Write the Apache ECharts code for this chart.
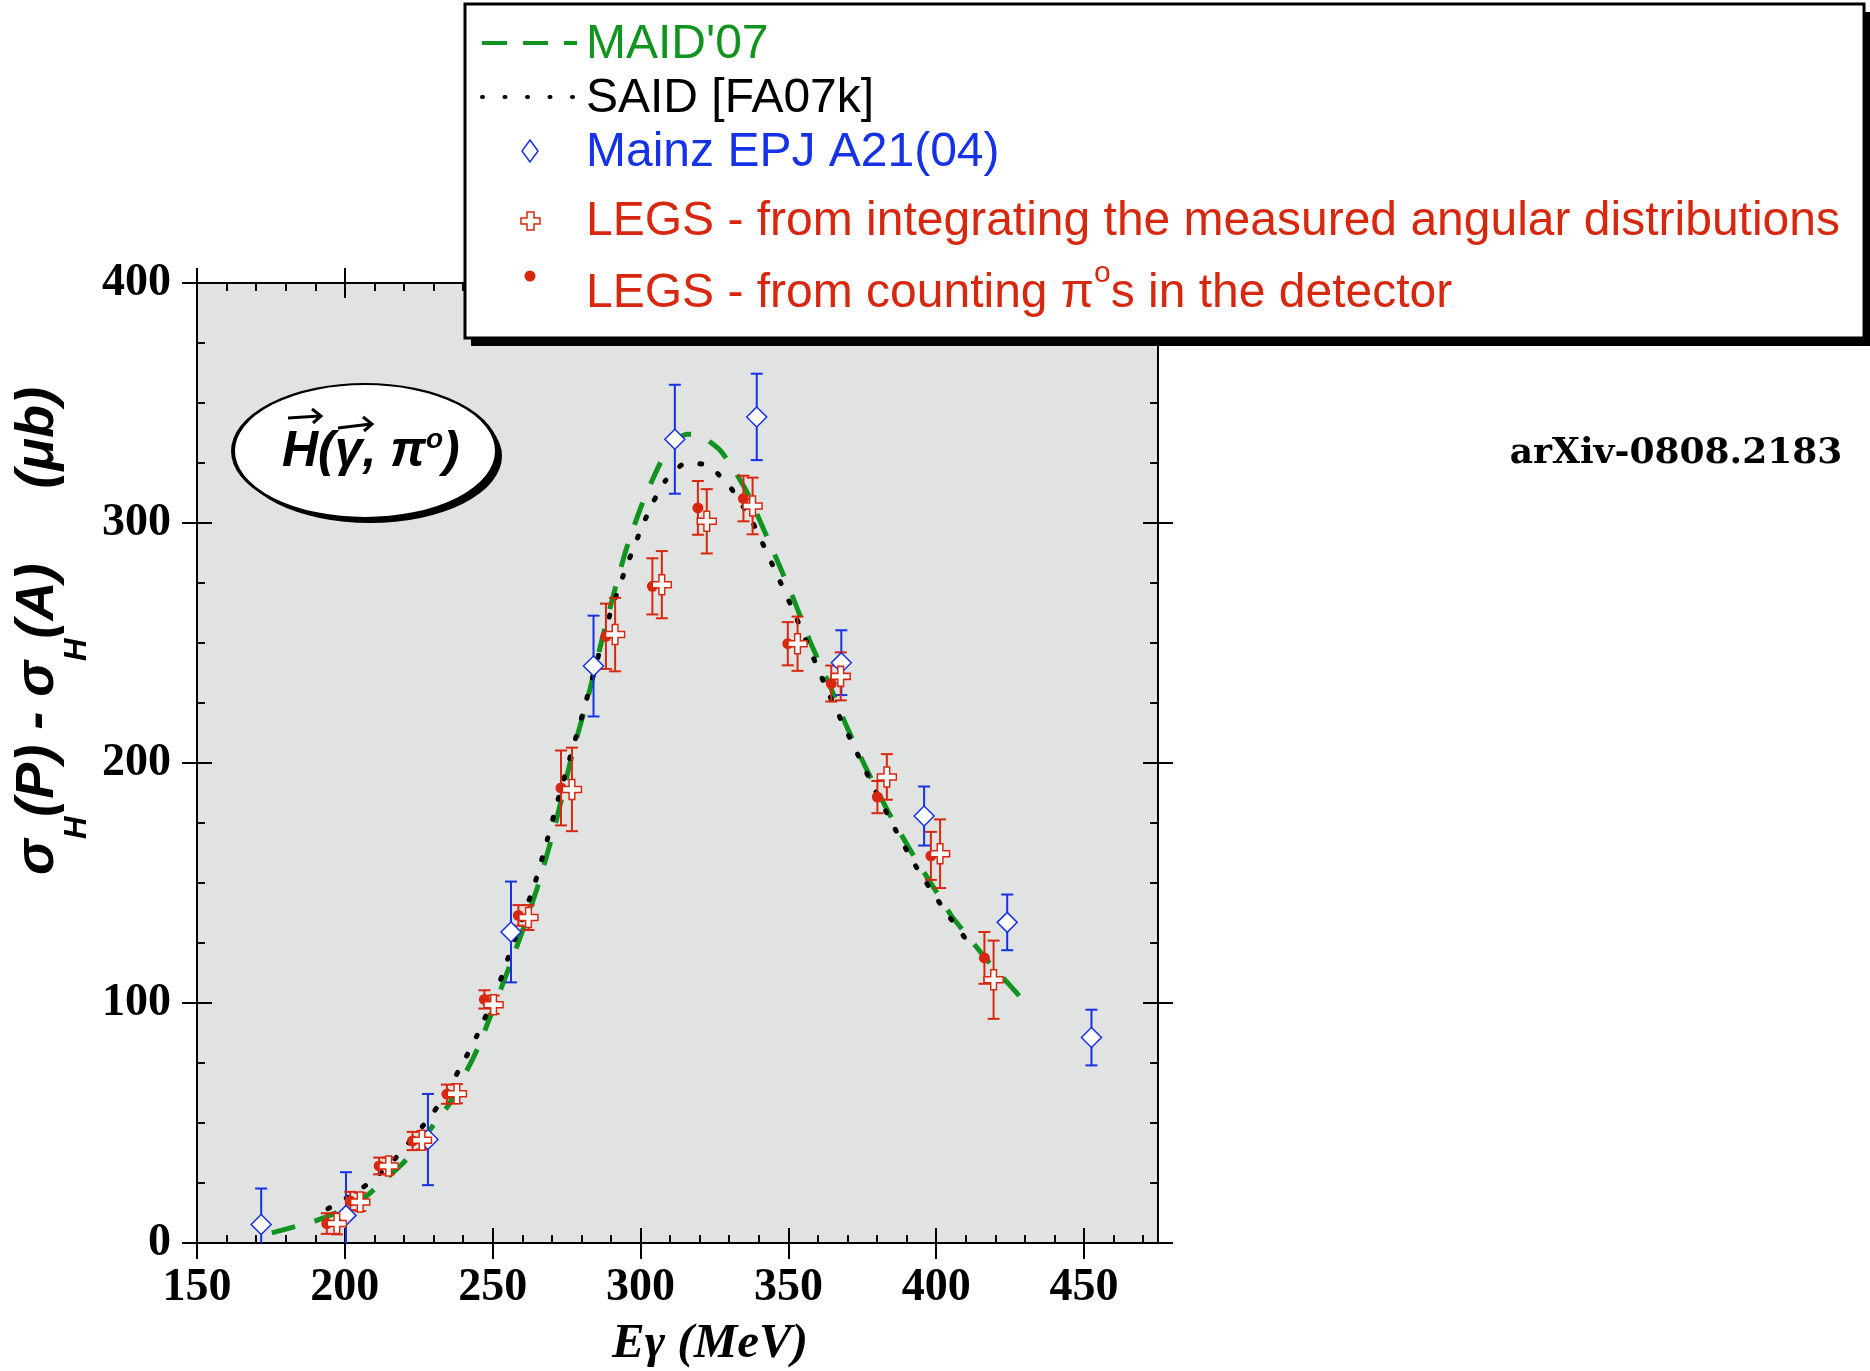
<!DOCTYPE html>
<html>
<head>
<meta charset="utf-8">
<script src="https://cdn.jsdelivr.net/npm/echarts@6/dist/echarts.min.js"></script>
<style>
  html, body { margin: 0; padding: 0; background: #fff; }
  #chart { width: 1870px; height: 1371px; }
</style>
</head>
<body>
<div id="chart"></div>
<script>
// MAID'07 curve (dashed green)
const maidE = [175.3, 183.8, 190, 198.4, 206.9, 212, 219.3, 224.4, 230.2, 235.4, 239.2, 243.3, 246.3, 257.3, 265, 271.1, 276.8, 282.4, 286.9, 291.4, 295.4, 300.5, 306.6, 311.7, 315.7, 320.2, 326.9, 332, 336, 339.3, 345.5, 351.7, 357.4, 364.2, 369.8, 376.5, 383.8, 392.3, 401.3, 405.3, 412, 418.2, 424.4, 430.4];
const maidSigma = [4.2, 7.0, 9.2, 13.3, 19.2, 24.7, 32.8, 40, 49.5, 58.1, 67.1, 76.8, 85.2, 120.6, 147.7, 174, 203.2, 228.2, 251.1, 272.7, 290, 307.8, 324.8, 334.5, 337, 336.5, 330.3, 321.3, 312.9, 303.9, 286.5, 268.5, 250.4, 231.7, 215, 197.2, 179.6, 161.5, 143.9, 136.1, 125.8, 116.4, 108.1, 99.7];

// SAID [FA07k] curve (dotted black)
const saidE = [194.3, 201.8, 208.9, 216.5, 228.1, 232.8, 237.3, 241, 244.7, 251.2, 256.3, 263.8, 268.1, 271.9, 276.2, 280.2, 286.1, 290, 295.4, 300.8, 304.2, 308.3, 315.1, 322.2, 329.4, 333.7, 338.2, 345.2, 351.5, 357.6, 363.8, 370.7, 377.7, 385, 392.9, 402.7, 412.8];
const saidSigma = [14.3, 19.6, 25.7, 34.5, 51.4, 59.5, 69.2, 77.5, 86.5, 104.6, 122.7, 148.1, 166.4, 183.8, 202.5, 219.5, 246.3, 263.3, 282.4, 299.3, 308.5, 317.4, 324.8, 324.3, 316.4, 308.8, 299.5, 281, 263.9, 246.3, 228.5, 210.6, 192.8, 175, 157.4, 138.9, 122];

// Mainz EPJ A21(04)
const mainzE = [171.7, 200.4, 228.1, 256.2, 284.1, 311.6, 339.3, 367.9, 395.9, 424.0, 452.5];
const mainzSigma = [7.7, 11.5, 43.1, 129.6, 240.4, 334.9, 344.2, 241.8, 177.9, 133.6, 85.6];
const mainzErr = [15, 18, 19, 21, 21, 22.7, 18, 13.5, 12.3, 11.6, 11.6];

// LEGS - counting pi0s in the detector (filled dots)
const countE = [193.9, 201.8, 211.6, 222.9, 234.5, 247.2, 258.7, 273.1, 288.3, 304.0, 319.4, 334.8, 349.8, 364.5, 380.1, 398.2, 416.3];
const countSigma = [8.1, 17.5, 32.1, 42.5, 62.0, 101.5, 136.5, 189.6, 252.8, 273.6, 306.3, 310.2, 249.7, 233.1, 185.8, 161.3, 118.8];
const countErr = [4.3, 3.8, 3.5, 3.8, 4, 3.8, 4.3, 15.6, 13.6, 11.7, 11.2, 9.5, 9, 7.5, 6.7, 10, 10.8];

// LEGS - integrating the measured angular distributions (open crosses)
const integE = [197.3, 205.2, 214.8, 226.1, 237.9, 250.3, 262.1, 276.8, 291.4, 307.2, 322.4, 337.9, 353.1, 367.7, 383.3, 401.3, 419.4];
const integSigma = [8.1, 17.1, 32.1, 42.8, 62.2, 99.3, 135.6, 189.0, 253.5, 274.3, 300.7, 307.1, 249.7, 236.1, 194.2, 162.2, 109.7];
const integErr = [4.5, 3.8, 3.5, 3.8, 4, 3.8, 5.2, 17.4, 15.3, 14, 13.4, 11.8, 11.3, 10, 9.5, 14.3, 16.3];

// axis ticks
const xMajor = [150, 200, 250, 300, 350, 400, 450];
const xMinor = [];
for (let v = 160; v < 475; v += 10) { if (v % 50 !== 0) xMinor.push(v); }

const GREEN = '#11941f';
const BLUE = '#1632e6';
const RED = '#d7280f';

const zip2 = (a, b) => a.map((v, i) => [v, b[i]]);
const zip3 = (a, b, c) => a.map((v, i) => [v, b[i], c[i]]);

function errorBars(color) {
  return function (params, api) {
    const x = api.value(0), y = api.value(1), e = api.value(2);
    const hi = api.coord([x, y + e]);
    const lo = api.coord([x, y - e]);
    const w = 6;
    const style = { stroke: color, lineWidth: 2 };
    return {
      type: 'group',
      children: [
        { type: 'line', shape: { x1: hi[0], y1: hi[1], x2: lo[0], y2: lo[1] }, style: style },
        { type: 'line', shape: { x1: hi[0] - w, y1: hi[1], x2: hi[0] + w, y2: hi[1] }, style: style },
        { type: 'line', shape: { x1: lo[0] - w, y1: lo[1], x2: lo[0] + w, y2: lo[1] }, style: style }
      ]
    };
  };
}

const CROSS = 'path://M7,0L13,0L13,7L20,7L20,13L13,13L13,20L7,20L7,13L0,13L0,7L7,7Z';
const tickFont = { fontFamily: 'Liberation Serif', fontWeight: 'bold', fontSize: 46, color: '#000' };
const axLine = { show: true, onZero: false, lineStyle: { color: '#000', width: 2 } };

function xAx(position, ticks, inside, len, labels) {
  return {
    type: 'value', min: 150, max: 475, position: position,
    axisLine: axLine,
    axisTick: { show: true, customValues: ticks, inside: inside, length: len, lineStyle: { color: '#000', width: 2 } },
    axisLabel: labels ? Object.assign({ show: true, customValues: xMajor, margin: 22 }, tickFont) : { show: false },
    splitLine: { show: false }
  };
}
function yAx(position, inside, minor, labels) {
  return {
    type: 'value', min: 0, max: 400, interval: 100, position: position,
    axisLine: axLine,
    axisTick: { show: true, inside: inside, length: 15, lineStyle: { color: '#000', width: 2 } },
    minorTick: { show: minor, splitNumber: 4, length: 8, lineStyle: { color: '#000', width: 2 } },
    axisLabel: labels ? Object.assign({ show: true, margin: 26 }, tickFont) : { show: false },
    splitLine: { show: false }
  };
}

const legendFont = { fontFamily: 'Liberation Sans', fontSize: 48 };
const txX = 586;

const option = {
  animation: false,
  backgroundColor: '#fff',
  grid: {
    left: 197, top: 283, right: 712, bottom: 128,
    show: true, backgroundColor: '#e1e2e2', borderWidth: 0,
    outerBoundsMode: 'none'
  },
  xAxis: [
    xAx('bottom', xMajor, false, 16, true),
    xAx('bottom', xMajor, true, 15, false),
    xAx('bottom', xMinor, true, 8, false),
    xAx('top', xMajor, false, 15, false),
    xAx('top', xMajor, true, 15, false),
    xAx('top', xMinor, true, 8, false)
  ],
  yAxis: [
    yAx('left', false, false, true),
    yAx('left', true, true, false),
    yAx('right', false, false, false),
    yAx('right', true, true, false)
  ],
  series: [
    {
      name: "MAID'07", type: 'line', data: zip2(maidE, maidSigma),
      symbol: 'none', smooth: 0.2, z: 2,
      lineStyle: { color: GREEN, width: 5, type: [24, 20], cap: 'butt' }
    },
    {
      name: 'SAID [FA07k]', type: 'line', data: zip2(saidE, saidSigma),
      symbol: 'none', smooth: 0.2, z: 2,
      lineStyle: { color: '#000', width: 5, type: [2, 19], cap: 'round' }
    },
    {
      type: 'custom', name: 'mainzErr', data: zip3(mainzE, mainzSigma, mainzErr),
      renderItem: errorBars(BLUE), encode: { x: 0, y: 1 }, clip: true, z: 3
    },
    {
      type: 'custom', name: 'countErr', data: zip3(countE, countSigma, countErr),
      renderItem: errorBars(RED), encode: { x: 0, y: 1 }, clip: true, z: 3
    },
    {
      type: 'custom', name: 'integErr', data: zip3(integE, integSigma, integErr),
      renderItem: errorBars(RED), encode: { x: 0, y: 1 }, clip: true, z: 3
    },
    {
      name: 'Mainz EPJ A21(04)', type: 'scatter', data: zip2(mainzE, mainzSigma),
      symbol: 'diamond', symbolSize: 20, z: 4,
      itemStyle: { color: '#fff', borderColor: BLUE, borderWidth: 1.5, opacity: 1 }
    },
    {
      name: 'LEGS counting', type: 'scatter', data: zip2(countE, countSigma),
      symbol: 'circle', symbolSize: 11, z: 5,
      itemStyle: { color: RED, opacity: 1 }
    },
    {
      name: 'LEGS integrating', type: 'scatter', data: zip2(integE, integSigma),
      symbol: CROSS, symbolSize: [19, 20], z: 6,
      itemStyle: { color: '#fff', borderColor: RED, borderWidth: 1.5, opacity: 1 }
    }
  ],
  graphic: [
    // legend box
    { type: 'rect', z: 100, shape: { x: 471, y: 12, width: 1399, height: 334 }, style: { fill: '#000' } },
    { type: 'rect', z: 101, shape: { x: 465, y: 4, width: 1399, height: 334 }, style: { fill: '#fff', stroke: '#000', lineWidth: 3 } },
    { type: 'line', z: 102, shape: { x1: 482, y1: 43, x2: 577, y2: 43 }, style: { stroke: GREEN, lineWidth: 4, lineDash: [25, 16] } },
    { type: 'text', z: 102, x: txX, y: 45, style: Object.assign({ text: "MAID'07", fill: GREEN, verticalAlign: 'middle' }, legendFont) },
    { type: 'line', z: 102, shape: { x1: 482, y1: 97, x2: 575, y2: 97 }, style: { stroke: '#000', lineWidth: 4, lineDash: [1, 21.5], lineCap: 'round' } },
    { type: 'text', z: 102, x: txX, y: 99, style: Object.assign({ text: 'SAID [FA07k]', fill: '#000', verticalAlign: 'middle' }, legendFont) },
    { type: 'polygon', z: 102, shape: { points: [[530, 140], [538, 151], [530, 162], [522, 151]] }, style: { fill: '#fff', stroke: BLUE, lineWidth: 1.5 } },
    { type: 'text', z: 102, x: txX, y: 153, style: Object.assign({ text: 'Mainz EPJ A21(04)', fill: BLUE, verticalAlign: 'middle' }, legendFont) },
    { type: 'polygon', z: 102, shape: { points: [[527, 212], [534, 212], [534, 218], [540, 218], [540, 224], [534, 224], [534, 230], [527, 230], [527, 224], [521, 224], [521, 218], [527, 218]] }, style: { fill: '#fff', stroke: RED, lineWidth: 1.5 } },
    { type: 'text', z: 102, x: txX, y: 222, style: Object.assign({ text: 'LEGS - from integrating the measured angular distributions', fill: RED, verticalAlign: 'middle' }, legendFont) },
    { type: 'circle', z: 102, shape: { cx: 530, cy: 276, r: 5.5 }, style: { fill: RED } },
    {
      type: 'text', z: 102, x: txX, y: 294,
      style: {
        text: '{m|LEGS - from counting π}{s|o}{m|s in the detector}', fill: RED, verticalAlign: 'middle',
        rich: {
          m: { fontFamily: 'Liberation Sans', fontSize: 48, lineHeight: 70 },
          s: { fontFamily: 'Liberation Sans', fontSize: 30, verticalAlign: 'top' }
        }
      }
    },
    // reaction label in ellipse
    { type: 'circle', z: 50, x: 370, y: 456, scaleX: 132 / 67, shape: { cx: 0, cy: 0, r: 67 }, style: { fill: '#000' } },
    { type: 'circle', z: 51, x: 365, y: 451, scaleX: 132 / 67, shape: { cx: 0, cy: 0, r: 67 }, style: { fill: '#fff', stroke: '#000', lineWidth: 2, strokeNoScale: true } },
    {
      type: 'text', z: 52, x: 282, y: 452,
      style: {
        text: '{m|H(γ, π}{s|o}{m|)}', fill: '#000', align: 'left', verticalAlign: 'middle',
        rich: {
          m: { fontFamily: 'Liberation Sans', fontWeight: 'bold', fontStyle: 'italic', fontSize: 50, lineHeight: 52 },
          s: { fontFamily: 'Liberation Sans', fontWeight: 'bold', fontStyle: 'italic', fontSize: 28, verticalAlign: 'top' }
        }
      }
    },
    { type: 'line', z: 52, shape: { x1: 288, y1: 418, x2: 320, y2: 416 }, style: { stroke: '#000', lineWidth: 3 } },
    { type: 'polyline', z: 52, shape: { points: [[312, 409], [321, 416], [313, 423]] }, style: { stroke: '#000', lineWidth: 3, fill: null } },
    { type: 'line', z: 52, shape: { x1: 338, y1: 428, x2: 371, y2: 424 }, style: { stroke: '#000', lineWidth: 3 } },
    { type: 'polyline', z: 52, shape: { points: [[363, 417], [372, 424], [364, 431]] }, style: { stroke: '#000', lineWidth: 3, fill: null } },
    // axis titles
    {
      type: 'text', z: 20, x: 38, y: 631, rotation: Math.PI / 2,
      style: {
        text: '{m|σ}{s|H}{m|(P) - σ}{s|H}{m|(A)     (μb)}', fill: '#000', align: 'center', verticalAlign: 'middle',
        rich: {
          m: { fontFamily: 'Liberation Sans', fontWeight: 'bold', fontStyle: 'italic', fontSize: 54, lineHeight: 110 },
          s: { fontFamily: 'Liberation Sans', fontWeight: 'bold', fontStyle: 'italic', fontSize: 31, verticalAlign: 'bottom' }
        }
      }
    },
    {
      type: 'text', z: 20, x: 710, y: 1344,
      style: { text: 'Eγ (MeV)', fill: '#000', align: 'center', verticalAlign: 'middle', fontFamily: 'Liberation Serif', fontWeight: 'bold', fontStyle: 'italic', fontSize: 49 }
    },
    {
      type: 'text', z: 20, x: 1676, y: 454,
      style: { text: 'arXiv-0808.2183', fill: '#000', align: 'center', verticalAlign: 'middle', fontFamily: 'DejaVu Serif', fontWeight: 'bold', fontSize: 36 }
    }
  ]
};

const chart = echarts.init(document.getElementById('chart'));
chart.setOption(option);
</script>
</body>
</html>
